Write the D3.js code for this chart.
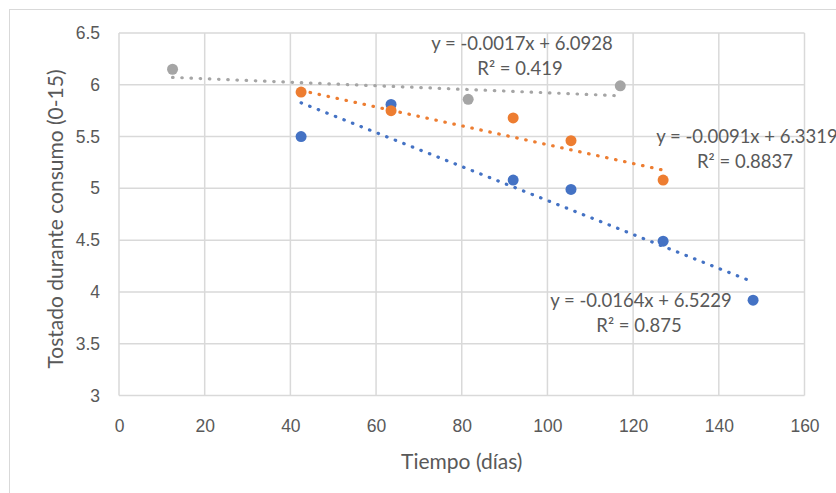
<!DOCTYPE html>
<html>
<meta charset="utf-8">
<style>
body { margin: 0; background: #fff; }
svg { display: block; font-family: Lato, "Open Sans", sans-serif; }
.grid line { stroke: #d9d9d9; stroke-width: 1.5; }
.axis text { fill: #595959; font-size: 17.5px; }
.axis path, .axis line { display: none; }
.title { fill: #595959; font-size: 21px; }
.eq { fill: #595959; font-size: 18.5px; }
</style>
<body>
<svg id="chart" width="836" height="493"></svg>
<script src="https://d3js.org/d3.v7.min.js"></script>
<script>
// series data (dias, tostado)
var seriesNames = ["A", "B", "C"];
var colors = ["#4472C4", "#ED7D31", "#A5A5A5"];
var xA = [42.5, 63.5, 92, 105.5, 127, 148];
var yA = [5.50, 5.81, 5.08, 4.99, 4.49, 3.92];
var xB = [42.5, 63.5, 92, 105.5, 127];
var yB = [5.93, 5.75, 5.68, 5.46, 5.08];
var xC = [12.5, 81.5, 117];
var yC = [6.15, 5.86, 5.99];

// trendlines as shown on the chart
var slopes = [-0.0164, -0.0091, -0.0017];
var intercepts = [6.5229, 6.3319, 6.0928];
var eqTexts = ["y = -0.0164x + 6.5229", "y = -0.0091x + 6.3319", "y = -0.0017x + 6.0928"];
var r2Texts = ["R² = 0.875", "R² = 0.8837", "R² = 0.419"];

var xTicks = [0, 20, 40, 60, 80, 100, 120, 140, 160];
var yTicks = [3, 3.5, 4, 4.5, 5, 5.5, 6, 6.5];

var xs = [xA, xB, xC], ys = [yA, yB, yC];

var svg = d3.select("#chart");
var plotL = 119, plotR = 804.5, plotT = 33, plotB = 395.5;

// outer chart border
svg.append("rect")
	.attr("x", 9.5).attr("y", 9.5)
	.attr("width", 840).attr("height", 500)
	.attr("fill", "none")
	.attr("stroke", "#d9d9d9")
	.attr("stroke-width", 1);

var x = d3.scaleLinear().domain([0, 160]).range([plotL, plotR]);
var y = d3.scaleLinear().domain([3, 6.5]).range([plotB, plotT]);

var grid = svg.append("g").attr("class", "grid");
grid.selectAll(".v").data(xTicks).enter().append("line")
	.attr("x1", function(d) { return x(d); })
	.attr("x2", function(d) { return x(d); })
	.attr("y1", plotT).attr("y2", plotB);
grid.selectAll(".h").data(yTicks).enter().append("line")
	.attr("x1", plotL).attr("x2", plotR)
	.attr("y1", function(d) { return y(d); })
	.attr("y2", function(d) { return y(d); });

svg.append("g")
	.attr("class", "axis")
	.attr("transform", "translate(0," + (plotB + 21) + ")")
	.call(d3.axisBottom(x).tickValues(xTicks).tickSize(0).tickFormat(d3.format("d")));

svg.append("g")
	.attr("class", "axis")
	.attr("transform", "translate(" + (plotL - 19) + ",0)")
	.call(d3.axisLeft(y).tickValues(yTicks).tickSize(0).tickPadding(0).tickFormat(function(d) { return String(d); }));

svg.append("text")
	.attr("class", "title")
	.attr("x", x(80)).attr("y", 469)
	.attr("text-anchor", "middle")
	.text("Tiempo (días)");

svg.append("text")
	.attr("class", "title")
	.attr("transform", "translate(63,219) rotate(-90)")
	.attr("text-anchor", "middle")
	.text("Tostado durante consumo (0-15)");

// markers
seriesNames.forEach(function(name, i) {
	svg.append("g").selectAll("circle")
		.data(d3.zip(xs[i], ys[i]))
		.enter().append("circle")
		.attr("cx", function(d) { return x(d[0]); })
		.attr("cy", function(d) { return y(d[1]); })
		.attr("r", 5.5)
		.attr("fill", colors[i]);
});

// trendlines
seriesNames.forEach(function(name, i) {
	var x0 = d3.min(xs[i]), x1 = d3.max(xs[i]);
	svg.append("line")
		.attr("x1", x(x0)).attr("y1", y(slopes[i] * x0 + intercepts[i]))
		.attr("x2", x(x1)).attr("y2", y(slopes[i] * x1 + intercepts[i]))
		.attr("stroke", colors[i])
		.attr("stroke-width", 3.2)
		.attr("stroke-linecap", "round")
		.attr("stroke-dasharray", "0.5 8.7");
});

// equation labels
var labelPos = [[641, 307], [747, 143], [522, 50]];
seriesNames.forEach(function(name, i) {
	var t = svg.append("text").attr("class", "eq").attr("text-anchor", "middle");
	t.append("tspan").attr("x", labelPos[i][0]).attr("y", labelPos[i][1]).text(eqTexts[i]);
	t.append("tspan").attr("x", labelPos[i][0] - 2).attr("y", labelPos[i][1] + 25).text(r2Texts[i]);
});
</script>
</body>
</html>
